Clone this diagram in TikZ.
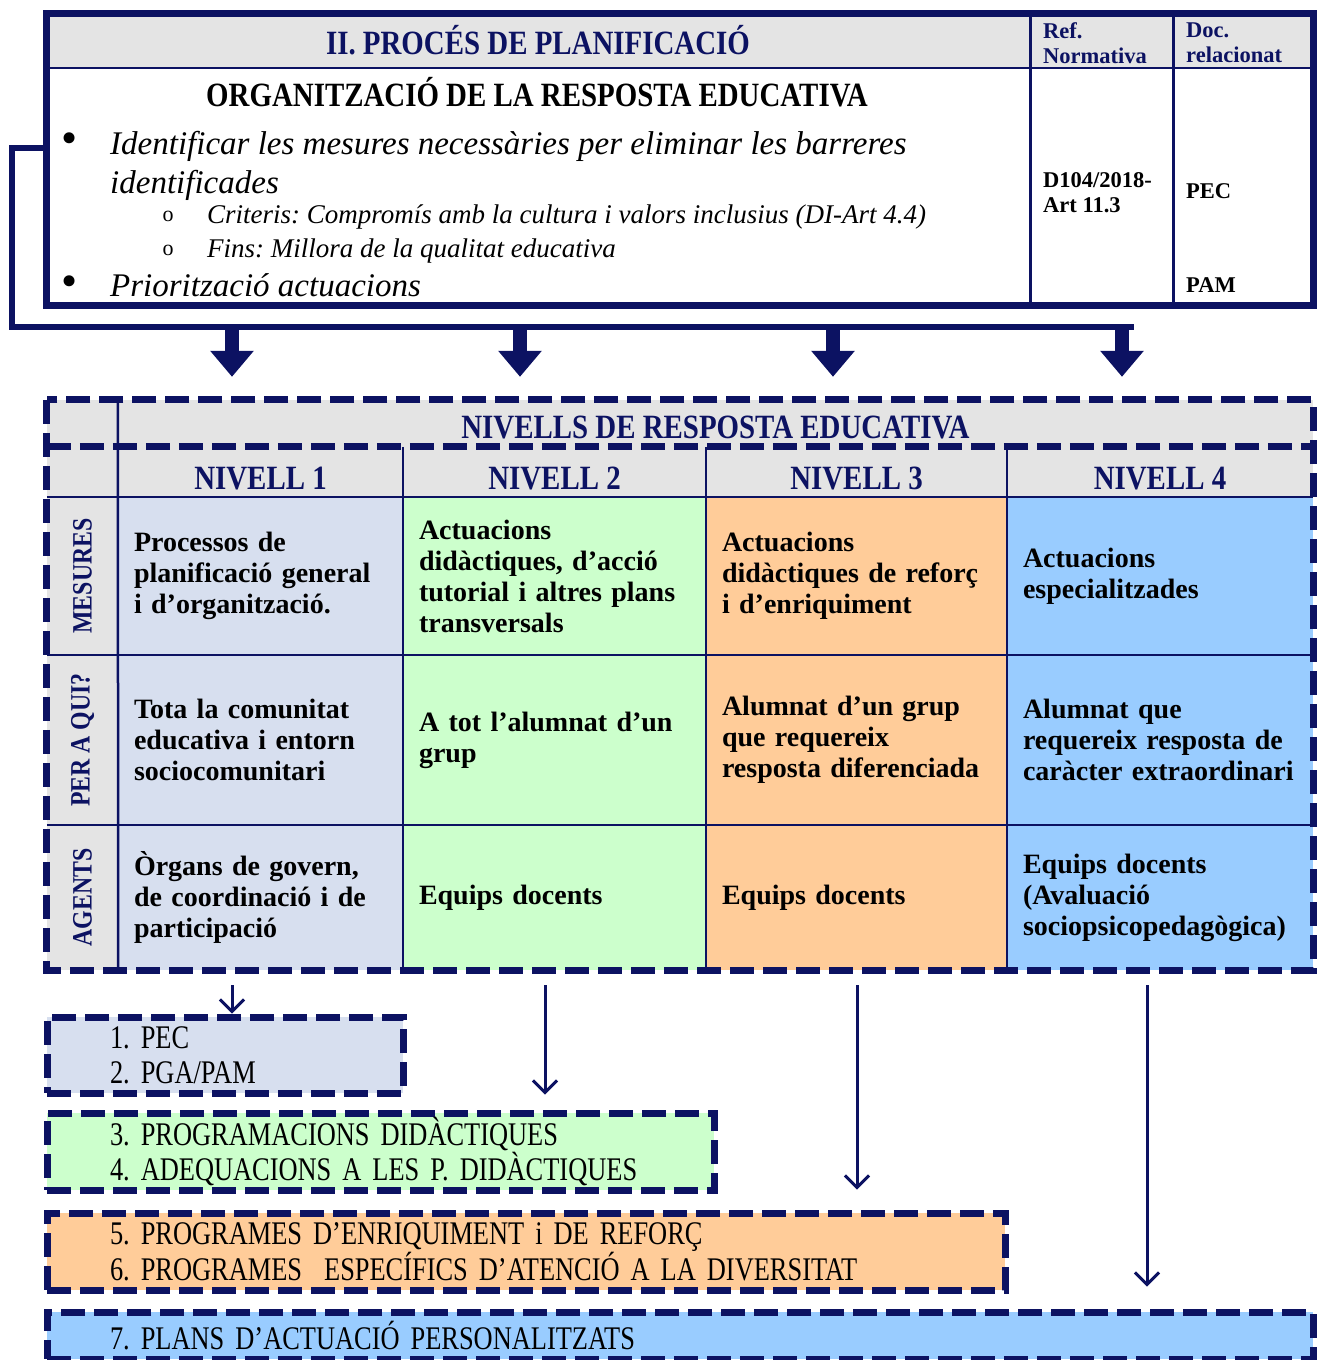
\documentclass[tikz,border=0pt]{standalone}
\usepackage{fontspec}
\setmainfont{Liberation Serif}
\newfontfamily\capsfont{Liberation Serif}[FakeStretch=0.85]
\newfontfamily\boxfont{Liberation Serif}[FakeStretch=0.8]
\usetikzlibrary{arrows.meta}

\definecolor{navy}{HTML}{0C1262}
\definecolor{hdrgray}{HTML}{E4E4E4}
\definecolor{nivA}{HTML}{D7DFEF}
\definecolor{nivB}{HTML}{CCFFCC}
\definecolor{nivC}{HTML}{FFCC99}
\definecolor{nivD}{HTML}{99CCFF}

\begin{document}
\frenchspacing
\begin{tikzpicture}[x=1pt,y=-1pt,
        cell/.style={inner xsep=16pt, inner ysep=0pt, align=left, font=\fontsize{28}{31}\selectfont\bfseries},
        lab/.style={fill=hdrgray, minimum width=71pt, inner sep=0pt, text=navy, font=\capsfont\fontsize{28}{28}\selectfont\bfseries},
        head/.style={fill=hdrgray, inner sep=0pt, text=navy, font=\capsfont\fontsize{34}{34}\selectfont\bfseries},
        bul/.style={anchor=base west, inner sep=0pt, font=\fontsize{33}{33}\selectfont\itshape},
        sub/.style={anchor=base west, inner sep=0pt, font=\fontsize{27}{27}\selectfont\itshape},
        dot/.style={inner sep=0pt, font=\fontsize{46}{46}\selectfont},
        ring/.style={inner sep=0pt, font=\fontsize{22}{22}\selectfont},
        small/.style={anchor=west, inner sep=0pt, align=left, font=\fontsize{22.5}{25}\selectfont\bfseries},
        docbox/.style={draw=navy, line width=7pt, dash pattern=on 24pt off 9pt, inner xsep=63pt, inner ysep=0pt, align=left, font=\boxfont\fontsize{33}{35}\selectfont},
        dashline/.style={draw=navy, line width=7pt, dash pattern=on 24pt off 9pt},
        grid/.style={navy, line width=2.5pt},
        fatarrow/.style={navy, line width=14pt, -{Triangle[width=42pt,length=26pt]}},
        thinarrow/.style={navy, line width=3pt, -{Straight Barb[length=12pt,width=24pt]}}]
        \useasboundingbox (0,0) rectangle (1318,1360);

        % planning box
        \node[fill=hdrgray, minimum width=1267pt, minimum height=55pt, inner sep=0pt](HDR) at (679.5,40.5){};
        \node[draw=navy, line width=7pt, minimum width=1267pt, minimum height=292pt, inner sep=0pt](TOP) at (679.5,159){};
        \draw[navy, line width=2pt] (HDR.south west) -- (HDR.south east);
        \draw[navy, line width=3pt] (1030,13) -- (1030,305);
        \draw[navy, line width=3pt] (1173,13) -- (1173,305);

        \node[anchor=base, inner sep=0pt, text=navy, font=\capsfont\fontsize{34}{34}\selectfont\bfseries](TTL) at (538,54){II. PROCÉS DE PLANIFICACIÓ};
        \node[small, text=navy](REF) at (1043,43){Ref.\\Normativa};
        \node[small, text=navy](DOC) at (1186,43){Doc.\\relacionat};
        \node[anchor=base, inner sep=0pt, font=\capsfont\fontsize{34}{34}\selectfont\bfseries](ORG) at (537,106){ORGANITZACIÓ DE LA RESPOSTA EDUCATIVA};

        \node[dot](B1) at (70,143){•};
        \node[bul](I1) at (110,154){Identificar les mesures necessàries per eliminar les barreres};
        \node[bul](I2) at (110,193){identificades};
        \node[ring](O1) at (168,216){o};
        \node[sub](I3) at (207,223){Criteris: Compromís amb la cultura i valors inclusius (DI-Art 4.4)};
        \node[ring](O2) at (168,250){o};
        \node[sub](I4) at (207,257){Fins: Millora de la qualitat educativa};
        \node[dot](B2) at (70,286){•};
        \node[bul](I5) at (110,296){Priorització actuacions};

        \node[small](NORM) at (1043,193){D104/2018-\\Art 11.3};
        \node[small](PEC) at (1186,191){PEC};
        \node[small](PAM) at (1186,285){PAM};

        \coordinate (BUSY) at (46,148);
        \coordinate (BUSL) at (12,327);
        \coordinate (BUSR) at (1134,327);
        \draw[navy, line width=6pt] (BUSY) -| (BUSL) -- (BUSR);

        % levels table
        \node[head, minimum width=1195pt, minimum height=47pt, text height=30pt](NRT) at (715.5,423.5){NIVELLS DE RESPOSTA EDUCATIVA};
        \node[fill=hdrgray, minimum width=71pt, minimum height=97pt, inner sep=0pt](CRN) at (82.5,448.5){};

        \node[cell, fill=nivA, text width=253pt, minimum height=158pt](M1) at (260.5,576){Processos de\\planificació general\\i d’organització.};
        \node[cell, fill=nivB, text width=271pt, minimum height=158pt, right of=M1, node distance=294pt](M2){Actuacions\\didàctiques, d’acció\\tutorial i altres plans\\transversals};
        \node[cell, fill=nivC, text width=269pt, minimum height=158pt, right of=M2, node distance=302pt](M3){Actuacions\\didàctiques de reforç\\i d’enriquiment};
        \node[cell, fill=nivD, text width=274pt, minimum height=158pt, right of=M3, node distance=303.5pt](M4){Actuacions\\especialitzades};

        \node[cell, fill=nivA, text width=253pt, minimum height=170pt, below of=M1, node distance=164pt](P1){Tota la comunitat\\educativa i entorn\\sociocomunitari};
        \node[cell, fill=nivB, text width=271pt, minimum height=170pt, below of=M2, node distance=164pt](P2){A tot l’alumnat d’un\\grup};
        \node[cell, fill=nivC, text width=269pt, minimum height=170pt, below of=M3, node distance=164pt](P3){Alumnat d’un grup\\que requereix\\resposta diferenciada};
        \node[cell, fill=nivD, text width=274pt, minimum height=170pt, below of=M4, node distance=164pt](P4){Alumnat que\\requereix resposta de\\caràcter extraordinari};

        \node[cell, fill=nivA, text width=253pt, minimum height=145pt, below of=P1, node distance=157.5pt](A1){Òrgans de govern,\\de coordinació i de\\participació};
        \node[cell, fill=nivB, text width=271pt, minimum height=145pt, below of=P2, node distance=157.5pt](A2){Equips docents};
        \node[cell, fill=nivC, text width=269pt, minimum height=145pt, below of=P3, node distance=157.5pt](A3){Equips docents};
        \node[cell, fill=nivD, text width=274pt, minimum height=145pt, below of=P4, node distance=157.5pt](A4){Equips docents\\(Avaluació\\sociopsicopedagògica)};

        \node[lab, minimum height=158pt, left of=M1, node distance=178pt](LM){\rotatebox{90}{MESURES}};
        \node[lab, minimum height=170pt, left of=P1, node distance=178pt](LP){\rotatebox{90}{PER A QUI?}};
        \node[lab, minimum height=145pt, left of=A1, node distance=178pt](LA){\rotatebox{90}{AGENTS}};

        \node[head, minimum width=285pt, minimum height=50pt, text height=36pt, above of=M1, node distance=104pt](NV1){NIVELL 1};
        \node[head, minimum width=303pt, minimum height=50pt, text height=36pt, above of=M2, node distance=104pt](NV2){NIVELL 2};
        \node[head, minimum width=301pt, minimum height=50pt, text height=36pt, above of=M3, node distance=104pt](NV3){NIVELL 3};
        \node[head, minimum width=306pt, minimum height=50pt, text height=36pt, above of=M4, node distance=104pt](NV4){NIVELL 4};

        \draw[grid] (NRT.north west) -- (LA.south east);
        \draw[grid] (NV1.north east) -- (A1.south east);
        \draw[grid] (NV2.north east) -- (A2.south east);
        \draw[grid] (NV3.north east) -- (A3.south east);
        \draw[grid] (LM.north west) -- (M4.north east);
        \draw[grid] (LP.north west) -- (P4.north east);
        \draw[grid] (LA.north west) -- (A4.north east);
        \draw[dashline] (CRN.north west |- NV1.north) -- (NV4.north east);
        \draw[dashline] (CRN.north west) rectangle (A4.south east);

        \foreach \x/\n in {232/1,520/2,833/3,1122/4}{
                \coordinate (F\n) at (\x,327);
                \draw[fatarrow, shorten >=23pt] (F\n) -- (F\n |- NRT.north);
        }

        % documents
        \node[docbox, fill=nivA, minimum width=356pt, minimum height=76pt, text width=230pt](BX1) at (225,1055){1. PEC\\2. PGA/PAM};
        \node[docbox, fill=nivB, minimum width=667pt, minimum height=77pt, text width=541pt](BX2) at (380.5,1151.5){3. PROGRAMACIONS DIDÀCTIQUES\\4. ADEQUACIONS A LES P. DIDÀCTIQUES};
        \node[docbox, fill=nivC, minimum width=958pt, minimum height=77pt, text width=832pt](BX3) at (526,1251.5){5. PROGRAMES D’ENRIQUIMENT i DE REFORÇ\\6. PROGRAMES~ ESPECÍFICS D’ATENCIÓ A LA DIVERSITAT};
        \node[docbox, fill=nivD, minimum width=1266pt, minimum height=47pt, text width=1140pt](BX4) at (680,1335.5){7. PLANS D’ACTUACIÓ PERSONALITZATS};

        \coordinate (T1) at (232,985);
        \coordinate (T2) at (545,985);
        \coordinate (T3) at (857,985);
        \coordinate (T4) at (1147,985);
        \draw[thinarrow] (T1) -- (T1 |- BX1.north);
        \draw[thinarrow, shorten >=15pt] (T2) -- (T2 |- BX2.north);
        \draw[thinarrow, shorten >=20pt] (T3) -- (T3 |- BX3.north);
        \draw[thinarrow, shorten >=22pt] (T4) -- (T4 |- BX4.north);
\end{tikzpicture}
\end{document}
